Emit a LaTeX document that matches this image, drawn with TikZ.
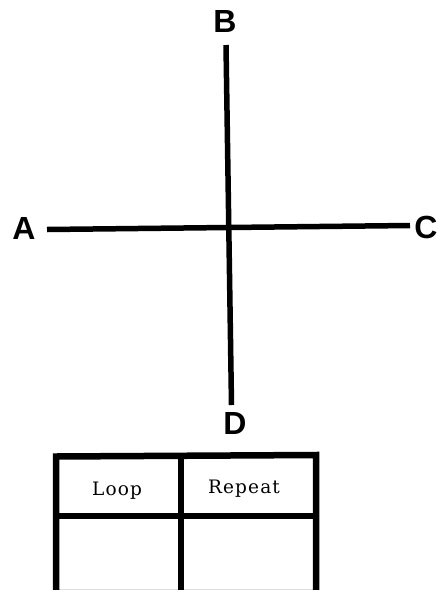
\documentclass[tikz,border=0pt]{standalone}
\usepackage{fontspec}
\setmainfont{Liberation Sans}
\newfontfamily\cellfont[LetterSpace=6]{DejaVu Serif}
\begin{document}
\begin{tikzpicture}[x=1pt,y=-1pt,
  lbl/.style={font=\fontsize{32}{32}\selectfont\bfseries, inner sep=0pt},
  celltext/.style={font=\fontsize{18.5}{18.5}\selectfont\cellfont, inner sep=0pt, anchor=base},
  bar/.style={line width=5.5pt},
  grid/.style={line width=6.5pt}]
\useasboundingbox (0,0) rectangle (437,590);
% labels
\node[lbl] (A) at (24,228.5) {A};
\node[lbl] (B) at (225,21.5) {B};
\node[lbl] (C) at (426,227) {C};
\node[lbl] (D) at (235,423.5) {D};
% cross line ends
\coordinate (a) at (47,229.5);
\coordinate (c) at (410,225.5);
\coordinate (b) at (226,45);
\coordinate (d) at (231.5,405);
\draw[bar] (a) -- (c);
\draw[bar] (b) -- (d);
% table
\coordinate (tl) at (56,456.5);
\coordinate (tr) at (316,455);
\coordinate (br) at (316,593);
\coordinate (bl) at (56,593);
\coordinate (mt) at (181,456);
\coordinate (mb) at (181,593);
\coordinate (ml) at (56,516);
\coordinate (mr) at (316,516);
\draw[grid] (tl) -- (tr) -- (br) -- (bl) -- cycle;
\draw[grid] (mt) -- (mb);
\draw[grid] (ml) -- (mr);
\node[celltext] (loop) at (117,495) {Loop};
\node[celltext] (repeat) at (244,493.5) {Repeat};
\end{tikzpicture}
\end{document}
